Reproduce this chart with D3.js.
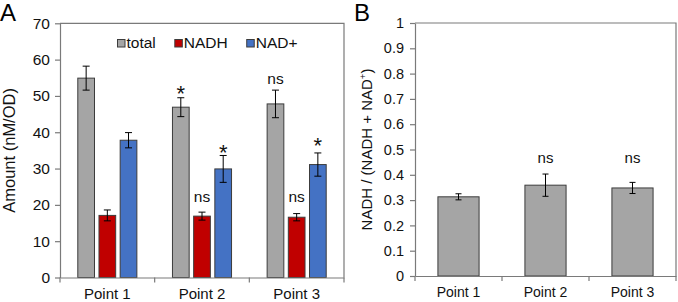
<!DOCTYPE html>
<html>
<head>
<meta charset="utf-8">
<script src="https://cdn.jsdelivr.net/npm/d3@7"></script>
<style>
  html, body { margin: 0; padding: 0; background: #fff; }
  svg { display: block; font-family: "Liberation Sans", Arial, sans-serif; }
</style>
</head>
<body>
<script>
// ---------------- data ----------------
const categories = ["Point 1", "Point 2", "Point 3"];
const seriesNames = ["total", "NADH", "NAD+"];
const totalMean = [54.9, 46.9, 47.8];
const totalErr  = [3.3, 2.6, 3.8];
const nadhMean  = [17.1, 16.9, 16.6];
const nadhErr   = [1.5, 1.1, 1.0];
const nadMean   = [37.8, 29.9, 31.1];
const nadErr    = [2.1, 3.7, 3.2];
const ratioMean = [0.313, 0.359, 0.348];
const ratioErr  = [0.012, 0.044, 0.022];
const yTicksA = [0, 10, 20, 30, 40, 50, 60, 70];
const yTicksB = [0, 0.1, 0.2, 0.3, 0.4, 0.5, 0.6, 0.7, 0.8, 0.9, 1];
// significance labels: category, series, text, label level (data units)
const annotCatA    = ["Point 2", "Point 3", "Point 2", "Point 3", "Point 2", "Point 3"];
const annotSerA    = ["total", "total", "NADH", "NADH", "NAD+", "NAD+"];
const annotTextA   = ["*", "ns", "ns", "ns", "*", "*"];
const annotLevelA  = [48.6, 53.3, 20.9, 20.9, 32.4, 34.2];
const annotCatB    = ["Point 2", "Point 3"];
const annotTextB   = ["ns", "ns"];
const annotLevelB  = [0.446, 0.446];

// ---------------- styles ----------------
const colors = { "total": "#A5A5A5", "NADH": "#C00000", "NAD+": "#4472C4" };
const axisColor = "#7a7a7a";
const barStroke = "#3c3c3c";
const textColor = "#111";
const FF = "Liberation Sans, Arial, sans-serif";

const svg = d3.select("body").append("svg").attr("width", 678).attr("height", 302);

// ================= Panel A =================
const A = { left: 60, right: 344, top: 23.3, bottom: 277.5 };
const xA = d3.scaleBand().domain(categories).range([A.left, A.right]).padding(0);
const xInner = d3.scaleBand().domain(seriesNames).range([0, xA.bandwidth()])
  .paddingInner(0.212).paddingOuter(0.84);
const yA = d3.scaleLinear().domain([0, 70]).range([A.bottom, A.top]);

const gA = svg.append("g");
gA.append("path")
  .attr("d", `M${A.left},${A.top}H${A.right}V${A.bottom}`)
  .attr("fill", "none").attr("stroke", axisColor).attr("stroke-width", 1.2);

const seriesData = [
  { name: "total", mean: totalMean, err: totalErr },
  { name: "NADH", mean: nadhMean, err: nadhErr },
  { name: "NAD+", mean: nadMean, err: nadErr }
];
const rowsA = [];
seriesData.forEach(s => categories.forEach((c, i) => rowsA.push({ cat: c, series: s.name, mean: s.mean[i], err: s.err[i] })));

gA.append("g").selectAll("rect").data(rowsA).join("rect")
  .attr("x", d => xA(d.cat) + xInner(d.series))
  .attr("width", xInner.bandwidth())
  .attr("y", d => yA(d.mean))
  .attr("height", d => yA(0) - yA(d.mean))
  .attr("fill", d => colors[d.series])
  .attr("stroke", barStroke).attr("stroke-width", 1);

const capA = 3.5;
const errA = gA.append("g").attr("stroke", "#000").attr("stroke-width", 1);
rowsA.forEach(d => {
  const cx = xA(d.cat) + xInner(d.series) + xInner.bandwidth() / 2;
  const y1 = yA(d.mean + d.err), y0 = yA(d.mean - d.err);
  errA.append("line").attr("x1", cx).attr("x2", cx).attr("y1", y1).attr("y2", y0);
  errA.append("line").attr("x1", cx - capA).attr("x2", cx + capA).attr("y1", y1).attr("y2", y1);
  errA.append("line").attr("x1", cx - capA).attr("x2", cx + capA).attr("y1", y0).attr("y2", y0);
});

const yAxisA = gA.append("g").attr("transform", `translate(${A.left},0)`)
  .call(d3.axisLeft(yA).tickValues(yTicksA).tickSize(5).tickSizeOuter(0).tickPadding(5));
yAxisA.selectAll("path, line").attr("stroke", axisColor).attr("stroke-width", 1.2);
yAxisA.selectAll("text").attr("font-size", 15.5).attr("fill", textColor).attr("font-family", FF);

const xAxisA = gA.append("g").attr("transform", `translate(0,${A.bottom})`)
  .call(d3.axisBottom(xA).tickSize(0).tickPadding(11).tickSizeOuter(0));
xAxisA.select(".domain").attr("stroke", axisColor).attr("stroke-width", 1.2);
xAxisA.selectAll("text").attr("font-size", 15).attr("fill", textColor).attr("font-family", FF);
const boundsA = categories.map(c => xA(c)).concat([A.right]);
gA.append("g").selectAll("line").data(boundsA).join("line")
  .attr("x1", d => d).attr("x2", d => d)
  .attr("y1", A.bottom).attr("y2", A.bottom + 5)
  .attr("stroke", axisColor).attr("stroke-width", 1.2);

annotTextA.forEach((t, i) => {
  const cx = xA(annotCatA[i]) + xInner(annotSerA[i]) + xInner.bandwidth() / 2;
  gA.append("text").attr("x", cx).attr("y", yA(annotLevelA[i]))
    .attr("text-anchor", "middle")
    .attr("font-size", t === "*" ? 22 : 15.5)
    .attr("fill", textColor).text(t);
});

const legA = gA.append("g").attr("transform", "translate(117.5,0)");
let lx = 0;
seriesNames.forEach(n => {
  legA.append("rect").attr("x", lx).attr("y", 39.5).attr("width", 7.5).attr("height", 7.5)
    .attr("fill", colors[n]).attr("stroke", barStroke).attr("stroke-width", 1);
  const t = legA.append("text").attr("x", lx + 9).attr("y", 48)
    .attr("font-size", 15.5).attr("fill", textColor).text(n);
  lx += 9 + t.node().getComputedTextLength() + 19;
});

svg.append("text").attr("transform", `translate(15,${(A.top + A.bottom) / 2}) rotate(-90)`)
  .attr("text-anchor", "middle").attr("font-size", 16.5).attr("fill", textColor)
  .text("Amount (nM/OD)");

svg.append("text").attr("x", 0).attr("y", 21).attr("font-size", 24).attr("fill", "#000").text("A");

// ================= Panel B =================
const B = { left: 415, right: 676, top: 23, bottom: 276 };
const xB = d3.scaleBand().domain(categories).range([B.left, B.right]).padding(0);
const yB = d3.scaleLinear().domain([0, 1]).range([B.bottom, B.top]);
const barFracB = 0.473;
const gB = svg.append("g");

gB.append("path")
  .attr("d", `M${B.left},${B.top}H${B.right}V${B.bottom}`)
  .attr("fill", "none").attr("stroke", axisColor).attr("stroke-width", 1.2);

const rowsB = categories.map((c, i) => ({ cat: c, mean: ratioMean[i], err: ratioErr[i] }));
const bwB = xB.bandwidth() * barFracB;
gB.append("g").selectAll("rect").data(rowsB).join("rect")
  .attr("x", d => xB(d.cat) + (xB.bandwidth() - bwB) / 2)
  .attr("width", bwB)
  .attr("y", d => yB(d.mean))
  .attr("height", d => yB(0) - yB(d.mean))
  .attr("fill", colors["total"])
  .attr("stroke", barStroke).attr("stroke-width", 1);

const capB = 3;
const errB = gB.append("g").attr("stroke", "#000").attr("stroke-width", 1);
rowsB.forEach(d => {
  const cx = xB(d.cat) + xB.bandwidth() / 2;
  const y1 = yB(d.mean + d.err), y0 = yB(d.mean - d.err);
  errB.append("line").attr("x1", cx).attr("x2", cx).attr("y1", y1).attr("y2", y0);
  errB.append("line").attr("x1", cx - capB).attr("x2", cx + capB).attr("y1", y1).attr("y2", y1);
  errB.append("line").attr("x1", cx - capB).attr("x2", cx + capB).attr("y1", y0).attr("y2", y0);
});

const yAxisB = gB.append("g").attr("transform", `translate(${B.left},0)`)
  .call(d3.axisLeft(yB).tickValues(yTicksB).tickFormat(d3.format("~g")).tickSize(5).tickSizeOuter(0).tickPadding(6));
yAxisB.selectAll("path, line").attr("stroke", axisColor).attr("stroke-width", 1.2);
yAxisB.selectAll("text").attr("font-size", 14.5).attr("fill", textColor).attr("font-family", FF);

const xAxisB = gB.append("g").attr("transform", `translate(0,${B.bottom})`)
  .call(d3.axisBottom(xB).tickSize(0).tickPadding(11).tickSizeOuter(0));
xAxisB.select(".domain").attr("stroke", axisColor).attr("stroke-width", 1.2);
xAxisB.selectAll("text").attr("font-size", 14).attr("fill", textColor).attr("font-family", FF);
const boundsB = categories.map(c => xB(c)).concat([B.right]);
gB.append("g").selectAll("line").data(boundsB).join("line")
  .attr("x1", d => d).attr("x2", d => d)
  .attr("y1", B.bottom).attr("y2", B.bottom + 5)
  .attr("stroke", axisColor).attr("stroke-width", 1.2);

annotTextB.forEach((t, i) => {
  gB.append("text").attr("x", xB(annotCatB[i]) + xB.bandwidth() / 2).attr("y", yB(annotLevelB[i]))
    .attr("text-anchor", "middle").attr("font-size", 15).attr("fill", textColor).text(t);
});

const yLabB = svg.append("text")
  .attr("transform", `translate(371.5,${(B.top + B.bottom) / 2}) rotate(-90)`)
  .attr("text-anchor", "middle").attr("font-size", 15).attr("fill", textColor);
yLabB.append("tspan").text("NADH / (NADH + NAD");
yLabB.append("tspan").attr("font-size", 9.5).attr("dy", -5.5).text("+");
yLabB.append("tspan").attr("dy", 5.5).text(")");

svg.append("text").attr("x", 354).attr("y", 21).attr("font-size", 24).attr("fill", "#000").text("B");
</script>
</body>
</html>
